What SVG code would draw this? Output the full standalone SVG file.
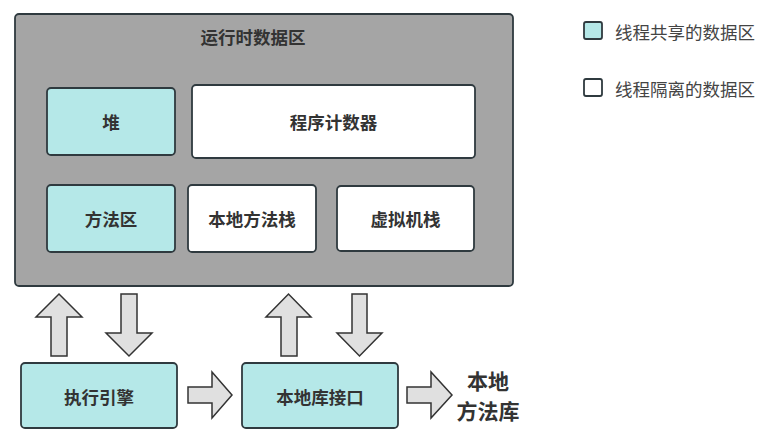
<svg xmlns="http://www.w3.org/2000/svg" width="766" height="444" viewBox="0 0 766 444">
<style>
.box{stroke:#2f3a3f;stroke-width:1.8}
.shared{fill:#b5e8e8}
.iso{fill:#ffffff}
.lbl{font-family:"Noto Sans CJK SC","Noto Sans",sans-serif;font-weight:bold;font-size:17.5px;fill:#333;text-anchor:middle;dominant-baseline:central}
.leg{font-family:"Noto Sans CJK SC","Noto Sans",sans-serif;font-size:17.5px;fill:#444;dominant-baseline:central}
.arr{fill:#e0e0e0;stroke:#333;stroke-width:1.5;stroke-linejoin:miter}
</style>
<rect width="766" height="444" fill="#ffffff"/>
<g id="runtime">
<rect x="15" y="14" width="498" height="272" rx="4" fill="#a5a5a5" class="box"/>
<text x="253" y="36" class="lbl">运行时数据区</text>
</g>
<g id="heap"><rect x="47" y="88" width="128" height="67" rx="4" class="box shared"/><text x="111" y="121.5" class="lbl">堆</text></g>
<g id="pc"><rect x="192" y="85" width="283" height="73" rx="4" class="box iso"/><text x="333.5" y="121.5" class="lbl">程序计数器</text></g>
<g id="method"><rect x="47" y="185" width="128" height="67" rx="4" class="box shared"/><text x="111" y="218.5" class="lbl">方法区</text></g>
<g id="nstack"><rect x="188" y="185" width="128" height="67" rx="4" class="box iso"/><text x="252" y="218.5" class="lbl">本地方法栈</text></g>
<g id="vstack"><rect x="337" y="186" width="137" height="65" rx="4" class="box iso"/><text x="405.5" y="218.5" class="lbl">虚拟机栈</text></g>
<g id="engine"><rect x="21" y="363" width="156" height="65" rx="4" class="box shared"/><text x="99" y="396" class="lbl">执行引擎</text></g>
<g id="nif"><rect x="242" y="363" width="156" height="65" rx="4" class="box shared"/><text x="320" y="396" class="lbl">本地库接口</text></g>
<g id="nlib"><text x="488" y="380" class="lbl" style="font-size:21px">本地</text><text x="488" y="410" class="lbl" style="font-size:21px">方法库</text></g>
<g id="connectors">
<polygon class="arr" points="51,356 51,317 36,317 59,294 82,317 67,317 67,356"/>
<polygon class="arr" points="121,294 137,294 137,333 152,333 129,356 106,333 121,333"/>
<polygon class="arr" points="281,356 281,317 266,317 288.5,294 311,317 297,317 297,356"/>
<polygon class="arr" points="352,294 367,294 367,333 382,333 359.5,356 337,333 352,333"/>
<polygon class="arr" points="188,387 212,387 212,372 232,395 212,418 212,403 188,403"/>
<polygon class="arr" points="407,387 431,387 431,372 452,395 431,418 431,403 407,403"/>
</g>
<g id="legend">
<rect x="584" y="22" width="18" height="17" rx="2" class="box shared"/>
<text x="615" y="31" class="leg">线程共享的数据区</text>
<rect x="584" y="79" width="18" height="17" rx="2" class="box iso"/>
<text x="615" y="88" class="leg">线程隔离的数据区</text>
</g>
</svg>
